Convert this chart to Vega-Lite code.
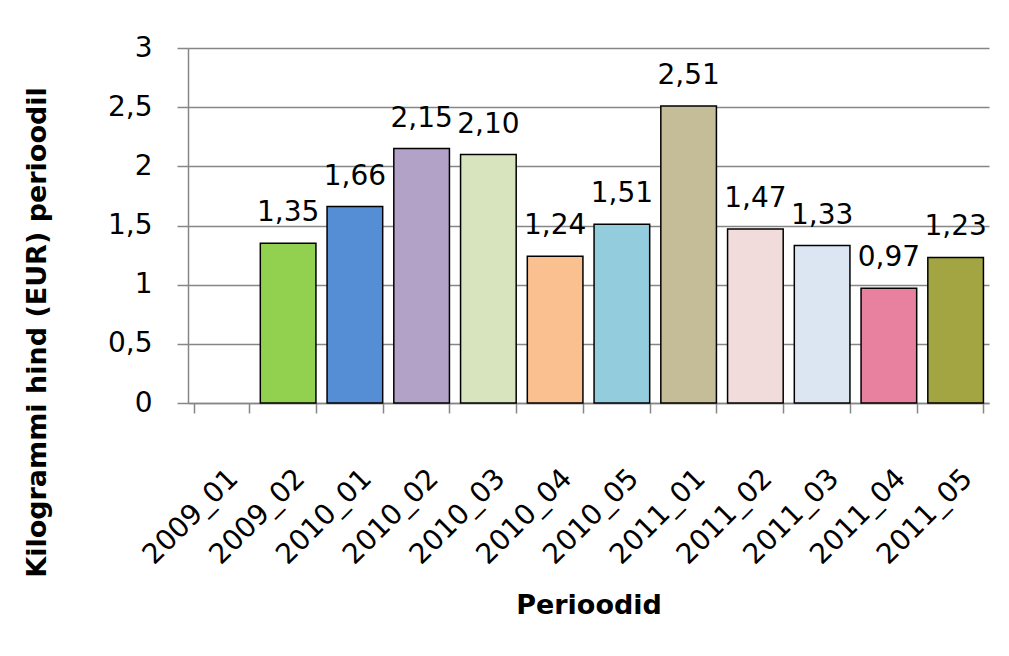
{
  "$schema": "https://vega.github.io/schema/vega-lite/v6.json",
  "width": 801,
  "height": 355,
  "autosize": {"type": "none"},
  "padding": {"left": 188, "top": 48, "right": 20, "bottom": 253},
  "background": "white",
  "data": {
    "values": [
      {"period": "2009_01", "price": null},
      {"period": "2009_02", "price": 1.35},
      {"period": "2010_01", "price": 1.66},
      {"period": "2010_02", "price": 2.15},
      {"period": "2010_03", "price": 2.10},
      {"period": "2010_04", "price": 1.24},
      {"period": "2010_05", "price": 1.51},
      {"period": "2011_01", "price": 2.51},
      {"period": "2011_02", "price": 1.47},
      {"period": "2011_03", "price": 1.33},
      {"period": "2011_04", "price": 0.97},
      {"period": "2011_05", "price": 1.23}
    ]
  },
  "encoding": {
    "x": {
      "field": "period",
      "type": "nominal",
      "sort": null,
      "scale": {
        "domain": ["2009_01", "2009_02", "2010_01", "2010_02", "2010_03", "2010_04", "2010_05", "2011_01", "2011_02", "2011_03", "2011_04", "2011_05"],
        "paddingInner": 0.1667, "paddingOuter": 0.0833
      },
      "axis": {
        "title": "Perioodid",
        "titleFont": "DejaVu Sans",
        "titleFontWeight": "bold",
        "titleFontSize": 27,
        "titleColor": "black",
        "titleY": 202,
        "titleBaseline": "middle",
        "labelFont": "DejaVu Sans",
        "labelFontSize": 28,
        "labelColor": "black",
        "labelAngle": -45,
        "labelAlign": "right",
        "labelBaseline": "middle",
        "labelOffset": 12,
        "labelPadding": 61,
        "tickBand": "extent",
        "tickSize": 10,
        "tickColor": "#868686",
        "tickWidth": 1.5,
        "domainColor": "#868686",
        "domainWidth": 1.5,
        "grid": false
      }
    },
    "y": {
      "field": "price",
      "type": "quantitative",
      "scale": {"domain": [0, 3]},
      "axis": {
        "title": "Kilogrammi hind (EUR) perioodil",
        "titleFont": "DejaVu Sans",
        "titleFontWeight": "bold",
        "titleFontSize": 27,
        "titleColor": "black",
        "titleAngle": -90,
        "titleX": -151,
        "titleY": 284,
        "titleAlign": "center",
        "titleBaseline": "middle",
        "values": [0, 0.5, 1, 1.5, 2, 2.5, 3],
        "format": ".1~f",
        "labelFont": "DejaVu Sans",
        "labelFontSize": 28,
        "labelColor": "black",
        "labelPadding": 25,
        "tickSize": 11,
        "tickColor": "#868686",
        "tickWidth": 1.5,
        "domainColor": "#868686",
        "domainWidth": 1.5,
        "grid": true,
        "gridColor": "#868686",
        "gridWidth": 1.5
      }
    }
  },
  "layer": [
    {
      "mark": {"type": "bar", "stroke": "black", "strokeWidth": 1.5},
      "encoding": {
        "color": {
          "field": "period",
          "type": "nominal",
          "legend": null,
          "scale": {
            "domain": ["2009_01", "2009_02", "2010_01", "2010_02", "2010_03", "2010_04", "2010_05", "2011_01", "2011_02", "2011_03", "2011_04", "2011_05"],
            "range": ["#ffffff", "#92D050", "#558ED5", "#B3A2C7", "#D7E4BD", "#FAC090", "#93CDDD", "#C4BD97", "#F2DCDB", "#DCE6F2", "#E8819F", "#A3A543"]
          }
        }
      }
    },
    {
      "mark": {"type": "text", "font": "DejaVu Sans", "fontSize": 28, "color": "black", "baseline": "alphabetic", "dy": -22},
      "encoding": {
        "text": {"field": "price", "type": "quantitative", "format": ".2f"}
      }
    }
  ],
  "config": {
    "view": {"stroke": null},
    "locale": {"number": {"decimal": ",", "thousands": " ", "grouping": [3], "currency": ["", " €"]}}
  }
}
